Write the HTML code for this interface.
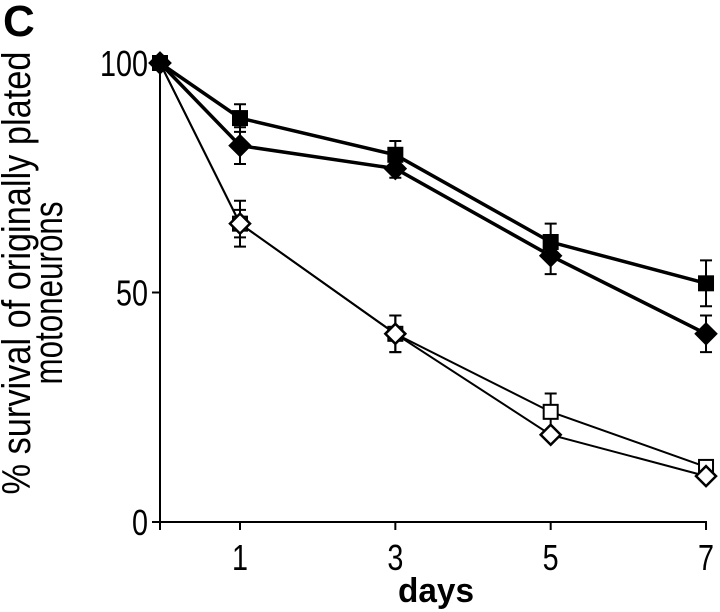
<!DOCTYPE html>
<html><head><meta charset="utf-8"><style>
body{margin:0;background:#fff;}
svg{display:block;font-family:"Liberation Sans",Arial,sans-serif;}
</style></head><body>
<svg id="chart" width="720" height="612">
<text x="3" y="36" font-size="44" font-weight="bold">C</text>
<g>
<text transform="translate(30,273) rotate(-90)" text-anchor="middle" font-size="40" textLength="443" lengthAdjust="spacingAndGlyphs">% survival of originally plated</text>
<text transform="translate(62,293) rotate(-90)" text-anchor="middle" font-size="40" textLength="183" lengthAdjust="spacingAndGlyphs">motoneurons</text>
</g>
<text x="436" y="602" text-anchor="middle" font-size="34" font-weight="bold" textLength="76" lengthAdjust="spacingAndGlyphs">days</text>
<g id="axes"></g>
<g id="series"></g>
</svg>
<script>
const days=[0,1,3,5,7];
const xTickLabels=["1","3","5","7"];
const yTicks=[0,50,100];
const filledSquare=[100,88,80,61,52];
const filledSquareErr=[0,3,3,4,5];
const filledDiamond=[100,82,77,58,41];
const filledDiamondErr=[0,4,2,4,4];
const openSquare=[100,65,41,24,12];
const openSquareErr=[0,5,4,4,1];
const openDiamond=[100,65,41,19,10];
const openDiamondErr=[0,3,4,0,0];

const NS="http://www.w3.org/2000/svg";
function xPos(d){return d===0?160:240+(d-1)*77.67;}
function yPos(v){return 522-v*4.59;}
function mk(tag,attrs,parent){const e=document.createElementNS(NS,tag);for(const k in attrs)e.setAttribute(k,attrs[k]);parent.appendChild(e);return e;}
const axes=document.getElementById('axes');
const ser=document.getElementById('series');
let e=mk('line',{x1:160,y1:yPos(100)-2,x2:160,y2:524,stroke:'#000','stroke-width':2},axes);


e=mk('line',{x1:152,y1:yPos(0),x2:707,y2:yPos(0),stroke:'#000','stroke-width':2},axes);


yTicks.forEach(v=>{
  const t=mk('line',{x1:152,y1:yPos(v),x2:160,y2:yPos(v),stroke:'#000','stroke-width':2},axes);
  
  
  const s=String(v);
  const l=mk('text',{x:148,y:yPos(v)+13,'text-anchor':'end','font-size':36,textLength:s.length*16,lengthAdjust:'spacingAndGlyphs'},axes);
  l.textContent=s;
  
  
});
mk('line',{x1:160,y1:yPos(0),x2:160,y2:yPos(0)+8,stroke:'#000','stroke-width':2},axes);
days.slice(1).forEach((d,i)=>{
  const t=mk('line',{x1:xPos(d),y1:yPos(0),x2:xPos(d),y2:yPos(0)+8,stroke:'#000','stroke-width':2},axes);
  
  
  const l=mk('text',{x:xPos(d),y:570,'text-anchor':'middle','font-size':36,textLength:16,lengthAdjust:'spacingAndGlyphs'},axes);
  l.textContent=xTickLabels[i];
  
  
});
function drawSeries(vals,errs,shape,filled,lw,name){
  const g=mk('g',{},ser);
  
  
  const pts=days.map((d,i)=>xPos(d)+','+yPos(vals[i])).join(' ');
  const pl=mk('polyline',{points:pts,fill:'none',stroke:'#000','stroke-width':lw},g);
  
  
  days.forEach((d,i)=>{
    const x=xPos(d),y=yPos(vals[i]),er=errs[i]*4.59;
    if(er>0){
      const eb=mk('path',{d:`M${x},${y-er}V${y+er}M${x-6},${y-er}H${x+6}M${x-6},${y+er}H${x+6}`,stroke:'#000','stroke-width':2,fill:'none'},g);
      
      
    }
    let m;
    if(shape==='square') m=mk('rect',{x:x-7,y:y-7,width:14,height:14,fill:filled?'#000':'#fff',stroke:'#000','stroke-width':2},g);
    else m=mk('polygon',{points:`${x},${y-10} ${x+10},${y} ${x},${y+10} ${x-10},${y}`,fill:filled?'#000':'#fff',stroke:'#000','stroke-width':2.5},g);
    
    
  });
}
drawSeries(openSquare,openSquareErr,'square',false,2,'open-square-series');
drawSeries(openDiamond,openDiamondErr,'diamond',false,2,'open-diamond-series');
drawSeries(filledDiamond,filledDiamondErr,'diamond',true,3.5,'filled-diamond-series');
drawSeries(filledSquare,filledSquareErr,'square',true,3.5,'filled-square-series');
</script>
</body></html>
